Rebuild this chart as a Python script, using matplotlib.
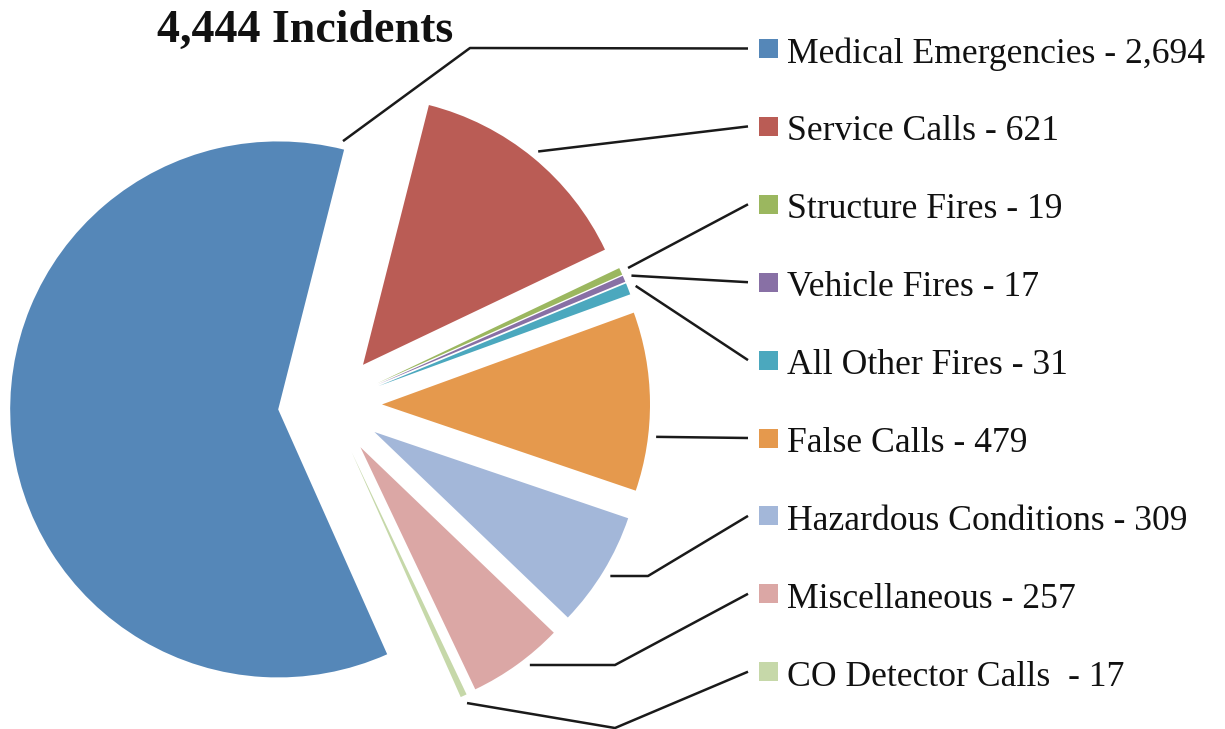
import matplotlib.pyplot as plt
import numpy as np

# dados
categorias = ['Medical Emergencies', 'Service Calls', 'Structure Fires', 'Vehicle Fires',
              'All Other Fires', 'False Calls', 'Hazardous Conditions', 'Miscellaneous',
              'CO Detector Calls ']
valores = [2694, 621, 19, 17, 31, 479, 309, 257, 17]
cores = ['#5587B8', '#BA5C55', '#9BB75F', '#8870A5', '#4BA8BE', '#E5994D',
         '#A3B7D9', '#DBA7A5', '#C6D8A9']
titulo = '4,444 Incidents'

W, H = 1225, 729
fig = plt.figure(figsize=(W / 100, H / 100), dpi=100)
ax = fig.add_axes([0, 0, 1, 1])

# pizza explodida (coordenadas em pixels, y para cima)
wedges, _ = ax.pie(valores, colors=cores, center=(330, H - 405), radius=268,
                   explode=[52] * len(valores), counterclock=False, startangle=-66,
                   wedgeprops=dict(linewidth=0))
ax.set_xlim(0, W)
ax.set_ylim(0, H)
ax.set_aspect('equal')
ax.axis('off')

# linhas de chamada
frac = [0.997, 0.5, 0.5, 0.5, 0.5, 0.69, 0.5, 0.40, 0.5]  # posição no arco
cotovelo = [(470, 48), None, None, None, None, None, (648, 576), (615, 665), (615, 728)]
x_fim = 748
linhas_y = [48.5 + 77.9 * k for k in range(len(valores))]

for i, w in enumerate(wedges):
    ang = np.radians(w.theta2 - frac[i] * (w.theta2 - w.theta1))
    cx, cy = w.center
    ax0 = cx + 1.03 * w.r * np.cos(ang)
    ay0 = cy + 1.03 * w.r * np.sin(ang)
    xs = [ax0]
    ys = [ay0]
    if cotovelo[i] is not None:
        xs.append(cotovelo[i][0])
        ys.append(H - cotovelo[i][1])
        if i in (6, 7):  # trecho horizontal
            ys[0] = ys[1]
    xs.append(x_fim)
    ys.append(H - linhas_y[i])
    ax.plot(xs, ys, color='#1a1a1a', lw=1.8, solid_capstyle='butt', clip_on=False)

    # quadradinho + texto
    yc = H - linhas_y[i]
    ax.add_patch(plt.Rectangle((759, yc - 9.5), 19, 19, color=cores[i], lw=0))
    ax.text(787, yc - 14, f'{categorias[i]} - {valores[i]:,}', fontsize=25.7,
            family='Liberation Serif', va='baseline', ha='left', color='#111111')

ax.text(157, H - 41.5, titulo, fontsize=33, fontweight='bold',
        family='Liberation Serif', va='baseline', ha='left', color='#111111')

plt.savefig('out.png', dpi=100)
